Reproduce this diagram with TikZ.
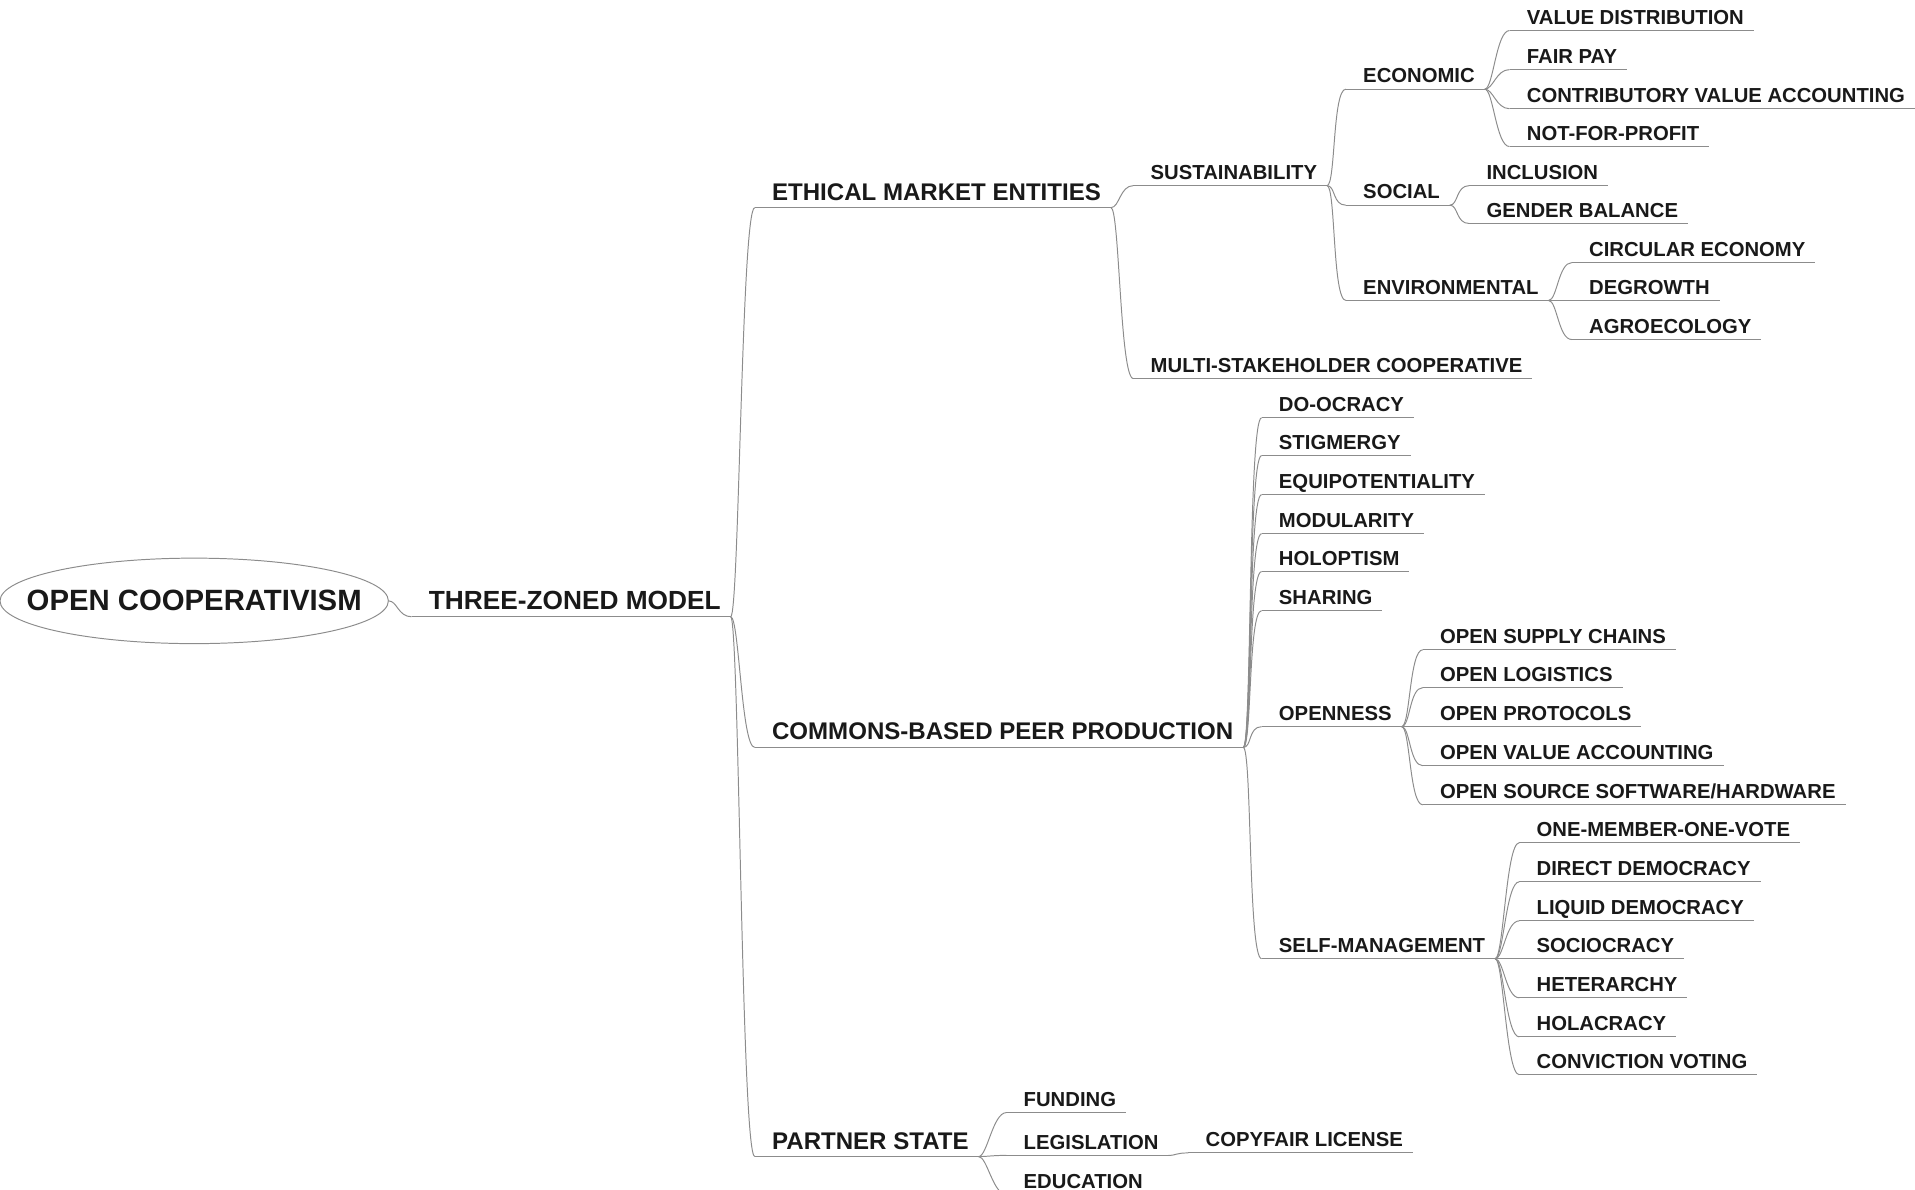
\documentclass[tikz,border=0pt]{standalone}
\usepackage{fontspec}
\setmainfont{Liberation Sans}

\tikzset{
  branch/.style={draw=black!45, line width=0.8pt},
  topic/.style={anchor=south west, inner xsep=0pt, inner ysep=5pt, text depth=0pt, text=black!90,
    font=\bfseries\fontsize{16.6}{18}\selectfont,
    execute at begin node=\hspace*{14pt}, execute at end node=\hspace*{8pt}},
  maintopic/.style={topic, inner ysep=6pt, font=\bfseries\fontsize{19.7}{22}\selectfont},
  rootnode/.style={minimum width=318pt, minimum height=70pt, inner sep=0pt, text=black!90,
    font=\bfseries\fontsize{24}{28}\selectfont},
}

\begin{document}
\begin{tikzpicture}[x=1pt, y=-1pt]
    \useasboundingbox (0,0) rectangle (1568,974);
    \clip (0,0) rectangle (1568,974);

    % Root and model
    \node[rootnode] (root) at (159,492) {OPEN COOPERATIVISM};
    \draw[branch] (root.center) ellipse [x radius=159, y radius=35];
    \node[maintopic, font=\bfseries\fontsize{21.5}{24}\selectfont] (tzm) at (337,505) {THREE-ZONED MODEL};

    % Three zones
    \node[maintopic] (ethic) at (618,170) {ETHICAL MARKET ENTITIES};
    \node[maintopic] (cbpp) at (618,612) {COMMONS-BASED PEER PRODUCTION};
    \node[maintopic] (pstate) at (618,947) {PARTNER STATE};

    % Ethical market entities
    \node[topic] (sust) at (928,152) {SUSTAINABILITY};
    \node[topic] (multi) at (928,310) {MULTI-STAKEHOLDER COOPERATIVE};
    \node[topic] (econ) at (1102,73) {ECONOMIC};
    \node[topic] (social) at (1102,168) {SOCIAL};
    \node[topic] (envir) at (1102,246) {ENVIRONMENTAL};
    \node[topic] (valdist) at (1236,25) {VALUE DISTRIBUTION};
    \node[topic] (fairpay) at (1236,57) {FAIR PAY};
    \node[topic] (contrib) at (1236,89) {CONTRIBUTORY VALUE ACCOUNTING};
    \node[topic] (nonprofit) at (1236,120) {NOT-FOR-PROFIT};
    \node[topic] (inclusion) at (1203,152) {INCLUSION};
    \node[topic] (gender) at (1203,183) {GENDER BALANCE};
    \node[topic] (circular) at (1287,215) {CIRCULAR ECONOMY};
    \node[topic] (degrowth) at (1287,246) {DEGROWTH};
    \node[topic] (agro) at (1287,278) {AGROECOLOGY};

    % Commons-based peer production
    \node[topic] (doocracy) at (1033,342) {DO-OCRACY};
    \node[topic] (stigmergy) at (1033,373) {STIGMERGY};
    \node[topic] (equipot) at (1033,405) {EQUIPOTENTIALITY};
    \node[topic] (modular) at (1033,437) {MODULARITY};
    \node[topic] (holopt) at (1033,468) {HOLOPTISM};
    \node[topic] (sharing) at (1033,500) {SHARING};
    \node[topic] (openness) at (1033,595) {OPENNESS};
    \node[topic] (selfman) at (1033,785) {SELF-MANAGEMENT};
    \node[topic] (supply) at (1165,532) {OPEN SUPPLY CHAINS};
    \node[topic] (logistics) at (1165,563) {OPEN LOGISTICS};
    \node[topic] (protocols) at (1165,595) {OPEN PROTOCOLS};
    \node[topic] (openval) at (1165,627) {OPEN VALUE ACCOUNTING};
    \node[topic] (opensrc) at (1165,659) {OPEN SOURCE SOFTWARE/HARDWARE};
    \node[topic] (omov) at (1244,690) {ONE-MEMBER-ONE-VOTE};
    \node[topic] (direct) at (1244,722) {DIRECT DEMOCRACY};
    \node[topic] (liquid) at (1244,754) {LIQUID DEMOCRACY};
    \node[topic] (socio) at (1244,785) {SOCIOCRACY};
    \node[topic] (hetero) at (1244,817) {HETERARCHY};
    \node[topic] (hola) at (1244,849) {HOLACRACY};
    \node[topic] (convict) at (1244,880) {CONVICTION VOTING};

    % Partner state
    \node[topic] (funding) at (824,911) {FUNDING};
    \node[topic] (legis) at (824,946) {LEGISLATION};
    \node[topic] (educ) at (824,978) {EDUCATION};
    \node[topic] (copyfair) at (973,944) {COPYFAIR LICENSE};

    % Underlines
    \foreach \n in {tzm,ethic,cbpp,pstate,sust,multi,econ,social,envir,valdist,fairpay,contrib,nonprofit,
        inclusion,gender,circular,degrowth,agro,doocracy,stigmergy,equipot,modular,holopt,sharing,
        openness,selfman,supply,logistics,protocols,openval,opensrc,omov,direct,liquid,socio,hetero,
        hola,convict,funding,legis,educ,copyfair}
        \draw[branch] (\n.south west) -- (\n.south east);

    % Connectors
    \draw[branch] (root.east) .. controls +(7,0) and +(-11,0) .. (tzm.south west);
    \foreach \p/\c in {tzm/ethic,tzm/cbpp,tzm/pstate,ethic/sust,ethic/multi,sust/econ,sust/social,sust/envir,
        econ/valdist,econ/fairpay,econ/contrib,econ/nonprofit,social/inclusion,social/gender,
        envir/circular,envir/degrowth,envir/agro,cbpp/doocracy,cbpp/stigmergy,cbpp/equipot,cbpp/modular,
        cbpp/holopt,cbpp/sharing,cbpp/openness,cbpp/selfman,openness/supply,openness/logistics,
        openness/protocols,openness/openval,openness/opensrc,selfman/omov,selfman/direct,selfman/liquid,
        selfman/socio,selfman/hetero,selfman/hola,selfman/convict,pstate/funding,pstate/legis,
        pstate/educ,legis/copyfair}
        \draw[branch] (\p.south east) .. controls +(7,0) and +(-11,0) .. (\c.south west);
\end{tikzpicture}
\end{document}
